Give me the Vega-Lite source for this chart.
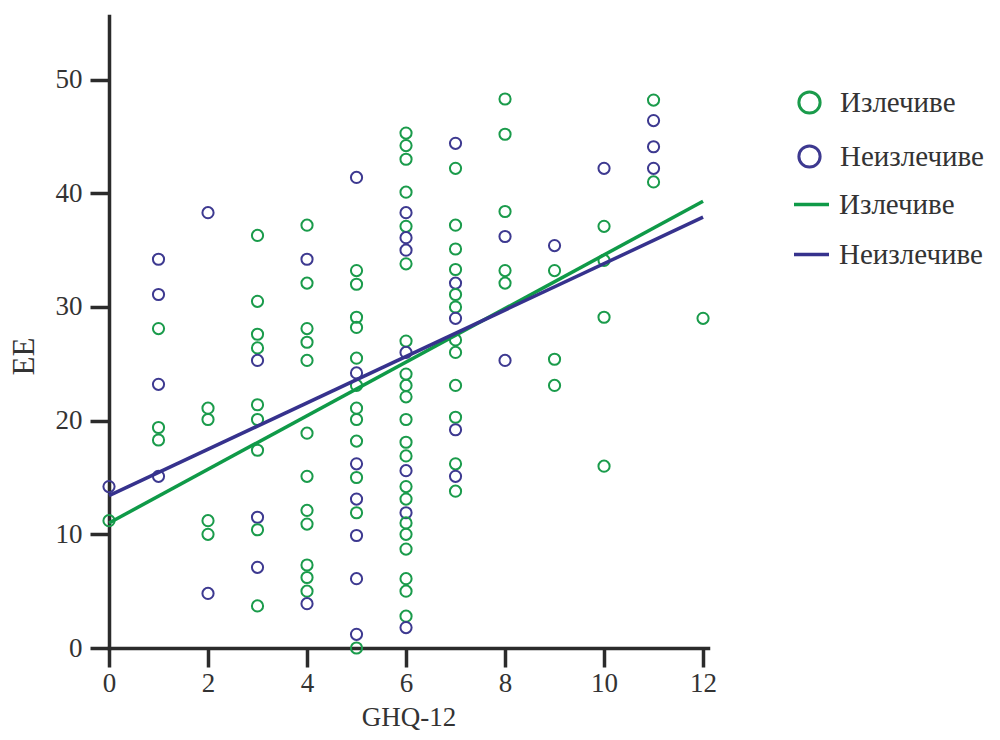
{
  "$schema": "https://vega.github.io/schema/vega-lite/v6.json",
  "width": 599,
  "height": 632,
  "autosize": {"type": "none"},
  "padding": {"left": 109, "top": 16, "right": 292, "bottom": 92},
  "background": "white",
  "config": {
    "view": {"stroke": null},
    "font": "Liberation Serif",
    "axis": {
      "grid": false,
      "domainColor": "#2b2b2b",
      "domainWidth": 3.5,
      "domainCap": "square",
      "tickColor": "#2b2b2b",
      "tickWidth": 3.5,
      "tickSize": 19,
      "labelFlush": false,
      "labelFont": "Liberation Serif",
      "labelFontSize": 27,
      "labelColor": "#333333",
      "titleFont": "Liberation Serif",
      "titleFontSize": 27,
      "titleFontWeight": "normal",
      "titleColor": "#333333"
    }
  },
  "datasets": {
    "pts": [
      {"ghq": 0, "ee": 11.2, "group": "Излечиве"},
      {"ghq": 0, "ee": 14.2, "group": "Неизлечиве"},
      {"ghq": 1, "ee": 34.2, "group": "Неизлечиве"},
      {"ghq": 1, "ee": 31.1, "group": "Неизлечиве"},
      {"ghq": 1, "ee": 28.1, "group": "Излечиве"},
      {"ghq": 1, "ee": 23.2, "group": "Неизлечиве"},
      {"ghq": 1, "ee": 19.4, "group": "Излечиве"},
      {"ghq": 1, "ee": 18.3, "group": "Излечиве"},
      {"ghq": 1, "ee": 15.1, "group": "Неизлечиве"},
      {"ghq": 2, "ee": 38.3, "group": "Неизлечиве"},
      {"ghq": 2, "ee": 21.1, "group": "Излечиве"},
      {"ghq": 2, "ee": 20.1, "group": "Излечиве"},
      {"ghq": 2, "ee": 11.2, "group": "Излечиве"},
      {"ghq": 2, "ee": 10.0, "group": "Излечиве"},
      {"ghq": 2, "ee": 4.8, "group": "Неизлечиве"},
      {"ghq": 3, "ee": 36.3, "group": "Излечиве"},
      {"ghq": 3, "ee": 30.5, "group": "Излечиве"},
      {"ghq": 3, "ee": 27.6, "group": "Излечиве"},
      {"ghq": 3, "ee": 26.4, "group": "Излечиве"},
      {"ghq": 3, "ee": 25.3, "group": "Неизлечиве"},
      {"ghq": 3, "ee": 21.4, "group": "Излечиве"},
      {"ghq": 3, "ee": 20.1, "group": "Излечиве"},
      {"ghq": 3, "ee": 17.4, "group": "Излечиве"},
      {"ghq": 3, "ee": 11.5, "group": "Неизлечиве"},
      {"ghq": 3, "ee": 10.4, "group": "Излечиве"},
      {"ghq": 3, "ee": 7.1, "group": "Неизлечиве"},
      {"ghq": 3, "ee": 3.7, "group": "Излечиве"},
      {"ghq": 4, "ee": 37.2, "group": "Излечиве"},
      {"ghq": 4, "ee": 34.2, "group": "Неизлечиве"},
      {"ghq": 4, "ee": 32.1, "group": "Излечиве"},
      {"ghq": 4, "ee": 28.1, "group": "Излечиве"},
      {"ghq": 4, "ee": 26.9, "group": "Излечиве"},
      {"ghq": 4, "ee": 25.3, "group": "Излечиве"},
      {"ghq": 4, "ee": 18.9, "group": "Излечиве"},
      {"ghq": 4, "ee": 15.1, "group": "Излечиве"},
      {"ghq": 4, "ee": 12.1, "group": "Излечиве"},
      {"ghq": 4, "ee": 10.9, "group": "Излечиве"},
      {"ghq": 4, "ee": 7.3, "group": "Излечиве"},
      {"ghq": 4, "ee": 6.2, "group": "Излечиве"},
      {"ghq": 4, "ee": 5.0, "group": "Излечиве"},
      {"ghq": 4, "ee": 3.9, "group": "Неизлечиве"},
      {"ghq": 5, "ee": 41.4, "group": "Неизлечиве"},
      {"ghq": 5, "ee": 33.2, "group": "Излечиве"},
      {"ghq": 5, "ee": 32.0, "group": "Излечиве"},
      {"ghq": 5, "ee": 29.1, "group": "Излечиве"},
      {"ghq": 5, "ee": 28.2, "group": "Излечиве"},
      {"ghq": 5, "ee": 25.5, "group": "Излечиве"},
      {"ghq": 5, "ee": 24.2, "group": "Неизлечиве"},
      {"ghq": 5, "ee": 23.1, "group": "Излечиве"},
      {"ghq": 5, "ee": 21.1, "group": "Излечиве"},
      {"ghq": 5, "ee": 20.1, "group": "Излечиве"},
      {"ghq": 5, "ee": 18.2, "group": "Излечиве"},
      {"ghq": 5, "ee": 16.2, "group": "Неизлечиве"},
      {"ghq": 5, "ee": 15.0, "group": "Излечиве"},
      {"ghq": 5, "ee": 13.1, "group": "Неизлечиве"},
      {"ghq": 5, "ee": 11.9, "group": "Излечиве"},
      {"ghq": 5, "ee": 9.9, "group": "Неизлечиве"},
      {"ghq": 5, "ee": 6.1, "group": "Неизлечиве"},
      {"ghq": 5, "ee": 1.2, "group": "Неизлечиве"},
      {"ghq": 5, "ee": 0.0, "group": "Излечиве"},
      {"ghq": 6, "ee": 45.3, "group": "Излечиве"},
      {"ghq": 6, "ee": 44.2, "group": "Излечиве"},
      {"ghq": 6, "ee": 43.0, "group": "Излечиве"},
      {"ghq": 6, "ee": 40.1, "group": "Излечиве"},
      {"ghq": 6, "ee": 38.3, "group": "Неизлечиве"},
      {"ghq": 6, "ee": 37.1, "group": "Излечиве"},
      {"ghq": 6, "ee": 36.1, "group": "Неизлечиве"},
      {"ghq": 6, "ee": 35.0, "group": "Неизлечиве"},
      {"ghq": 6, "ee": 33.8, "group": "Излечиве"},
      {"ghq": 6, "ee": 27.0, "group": "Излечиве"},
      {"ghq": 6, "ee": 26.0, "group": "Неизлечиве"},
      {"ghq": 6, "ee": 24.1, "group": "Излечиве"},
      {"ghq": 6, "ee": 23.1, "group": "Излечиве"},
      {"ghq": 6, "ee": 22.1, "group": "Излечиве"},
      {"ghq": 6, "ee": 20.1, "group": "Излечиве"},
      {"ghq": 6, "ee": 18.1, "group": "Излечиве"},
      {"ghq": 6, "ee": 16.9, "group": "Излечиве"},
      {"ghq": 6, "ee": 15.6, "group": "Неизлечиве"},
      {"ghq": 6, "ee": 14.2, "group": "Излечиве"},
      {"ghq": 6, "ee": 13.1, "group": "Излечиве"},
      {"ghq": 6, "ee": 11.9, "group": "Неизлечиве"},
      {"ghq": 6, "ee": 11.0, "group": "Излечиве"},
      {"ghq": 6, "ee": 10.0, "group": "Излечиве"},
      {"ghq": 6, "ee": 8.7, "group": "Излечиве"},
      {"ghq": 6, "ee": 6.1, "group": "Излечиве"},
      {"ghq": 6, "ee": 5.0, "group": "Излечиве"},
      {"ghq": 6, "ee": 2.8, "group": "Излечиве"},
      {"ghq": 6, "ee": 1.8, "group": "Неизлечиве"},
      {"ghq": 7, "ee": 44.4, "group": "Неизлечиве"},
      {"ghq": 7, "ee": 42.2, "group": "Излечиве"},
      {"ghq": 7, "ee": 37.2, "group": "Излечиве"},
      {"ghq": 7, "ee": 35.1, "group": "Излечиве"},
      {"ghq": 7, "ee": 33.3, "group": "Излечиве"},
      {"ghq": 7, "ee": 32.1, "group": "Неизлечиве"},
      {"ghq": 7, "ee": 31.1, "group": "Излечиве"},
      {"ghq": 7, "ee": 30.0, "group": "Излечиве"},
      {"ghq": 7, "ee": 29.0, "group": "Неизлечиве"},
      {"ghq": 7, "ee": 27.1, "group": "Излечиве"},
      {"ghq": 7, "ee": 26.0, "group": "Излечиве"},
      {"ghq": 7, "ee": 23.1, "group": "Излечиве"},
      {"ghq": 7, "ee": 20.3, "group": "Излечиве"},
      {"ghq": 7, "ee": 19.2, "group": "Неизлечиве"},
      {"ghq": 7, "ee": 16.2, "group": "Излечиве"},
      {"ghq": 7, "ee": 15.1, "group": "Неизлечиве"},
      {"ghq": 7, "ee": 13.8, "group": "Излечиве"},
      {"ghq": 8, "ee": 48.3, "group": "Излечиве"},
      {"ghq": 8, "ee": 45.2, "group": "Излечиве"},
      {"ghq": 8, "ee": 38.4, "group": "Излечиве"},
      {"ghq": 8, "ee": 36.2, "group": "Неизлечиве"},
      {"ghq": 8, "ee": 33.2, "group": "Излечиве"},
      {"ghq": 8, "ee": 32.1, "group": "Излечиве"},
      {"ghq": 8, "ee": 25.3, "group": "Неизлечиве"},
      {"ghq": 9, "ee": 35.4, "group": "Неизлечиве"},
      {"ghq": 9, "ee": 33.2, "group": "Излечиве"},
      {"ghq": 9, "ee": 25.4, "group": "Излечиве"},
      {"ghq": 9, "ee": 23.1, "group": "Излечиве"},
      {"ghq": 10, "ee": 42.2, "group": "Неизлечиве"},
      {"ghq": 10, "ee": 37.1, "group": "Излечиве"},
      {"ghq": 10, "ee": 34.1, "group": "Излечиве"},
      {"ghq": 10, "ee": 29.1, "group": "Излечиве"},
      {"ghq": 10, "ee": 16.0, "group": "Излечиве"},
      {"ghq": 11, "ee": 48.2, "group": "Излечиве"},
      {"ghq": 11, "ee": 46.4, "group": "Неизлечиве"},
      {"ghq": 11, "ee": 44.1, "group": "Неизлечиве"},
      {"ghq": 11, "ee": 42.2, "group": "Неизлечиве"},
      {"ghq": 11, "ee": 41.0, "group": "Излечиве"},
      {"ghq": 12, "ee": 29.0, "group": "Излечиве"}
    ],
    "fits": [
      {"ghq": 0, "ee": 11.0, "fit": "Излечиве"},
      {"ghq": 12, "ee": 39.3, "fit": "Излечиве"},
      {"ghq": 0, "ee": 13.4, "fit": "Неизлечиве"},
      {"ghq": 12, "ee": 37.9, "fit": "Неизлечиве"}
    ]
  },
  "resolve": {"scale": {"color": "independent"}, "legend": {"color": "independent"}},
  "layer": [
    {
      "data": {"name": "pts"},
      "mark": {"type": "point", "shape": "circle", "filled": false, "size": 125, "strokeWidth": 2, "opacity": 1},
      "encoding": {
        "x": {
          "field": "ghq", "type": "quantitative",
          "scale": {"domain": [0, 12.1], "nice": false, "zero": false},
          "axis": {"values": [0, 2, 4, 6, 8, 10, 12], "title": "GHQ-12", "labelPadding": 3, "titlePadding": 8}
        },
        "y": {
          "field": "ee", "type": "quantitative",
          "scale": {"domain": [0, 55.6], "nice": false},
          "axis": {"values": [0, 10, 20, 30, 40, 50], "title": "EE", "labelPadding": 8, "titleFontSize": 31, "titleX": -85, "titleY": 340, "titleAlign": "center", "titleBaseline": "middle", "titleAngle": 270}
        },
        "color": {
          "field": "group", "type": "nominal",
          "scale": {"domain": ["Излечиве", "Неизлечиве"], "range": ["#1a9b4b", "#3d3990"]},
          "legend": {
            "orient": "none", "legendX": 686, "legendY": 72, "title": null, "padding": 0,
            "symbolType": "circle", "symbolSize": 450, "symbolStrokeWidth": 3, "symbolFillColor": "transparent",
            "labelFont": "Liberation Serif", "labelFontSize": 29, "labelColor": "#333333", "labelOffset": 16, "rowPadding": 19
          }
        }
      }
    },
    {
      "data": {"name": "fits"},
      "mark": {"type": "line", "strokeWidth": 3.5},
      "encoding": {
        "x": {"field": "ghq", "type": "quantitative"},
        "y": {"field": "ee", "type": "quantitative"},
        "color": {
          "field": "fit", "type": "nominal",
          "scale": {"domain": ["Излечиве", "Неизлечиве"], "range": ["#0f9a48", "#36328d"]},
          "legend": {
            "orient": "none", "legendX": 683, "legendY": 169, "title": null, "padding": 0,
            "symbolType": "stroke", "symbolSize": 1225, "symbolStrokeWidth": 3.5,
            "labelFont": "Liberation Serif", "labelFontSize": 29, "labelColor": "#333333", "labelOffset": 8, "rowPadding": 15
          }
        }
      }
    }
  ]
}
